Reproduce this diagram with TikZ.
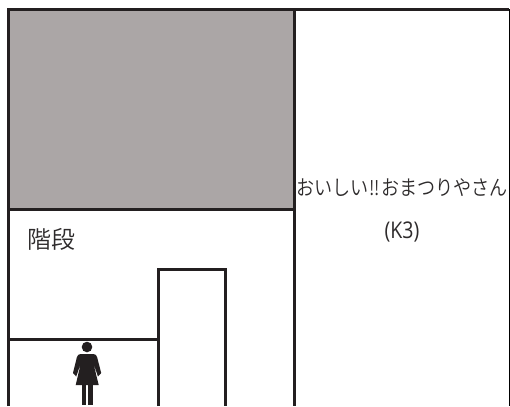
\documentclass[tikz,border=0pt]{standalone}
\usepackage{fontspec}
\newfontfamily\cjk{Noto Sans CJK JP DemiLight}
\newfontfamily\cjknarrow{Noto Sans CJK JP DemiLight}[FakeStretch=0.86]
\newfontfamily\lat{Open Sans}[FakeStretch=0.85]
\definecolor{wall}{HTML}{231F20}
\definecolor{roomgray}{HTML}{ABA6A6}
\definecolor{thin}{HTML}{A8A8A8}
\definecolor{txt}{HTML}{2E2B2C}
\tikzset{
  wallline/.style={draw=wall,line width=3bp,line cap=butt,line join=miter},
  label/.style={inner sep=0pt,text=txt},
  figure/.style={fill=wall,draw=none}
}
\begin{document}
\begin{tikzpicture}[x=1bp,y=-1bp]
\useasboundingbox (0,0) rectangle (510,406);
\fill[white] (0,0) rectangle (510,406);
\fill[roomgray] (8,9) rectangle (294,209);
\draw[thin,line width=1bp] (509.3,9) -- (509.3,406);
\draw[wallline] (8,406) -- (8,9) -- (509,9);
\draw[wallline] (294,9) -- (294,406);
\draw[wallline] (8,209) -- (294,209);
\draw[wallline] (8,339) -- (158,339);
\draw[wallline] (158,406) -- (158,269) -- (225.5,269) -- (225.5,406);
\node[label,font=\cjk\fontsize{24bp}{24bp}\selectfont] (stairs) at (51,239.5) {階段};
\node[label,font=\cjknarrow\fontsize{21bp}{21bp}\selectfont] (shop) at (402,187.5) {おいしい\hspace{1bp}{\fontsize{20bp}{20bp}\selectfont ‼}\hspace{2bp}おまつりやさん};
\node[label,font=\lat\fontsize{23bp}{23bp}\selectfont] (code) at (402,232) {(K3)};
% female figure
\fill[figure] (87,347) circle (5.3);
\fill[figure] (80.5,354) -- (93.5,354)
  .. controls (95.5,354) and (96.6,355.5) .. (97.2,357.5)
  -- (101.2,373) -- (98,376.5) -- (93.3,363) -- (98.7,385) -- (75.7,385) -- (80.9,363) -- (76.2,376.5) -- (73,373) -- (76.8,357.5)
  .. controls (77.4,355.5) and (78.5,354) .. (80.5,354) -- cycle;
\fill[figure] (81.7,385) rectangle (86.2,405);
\fill[figure] (88.2,385) rectangle (92.7,405);
\end{tikzpicture}
\end{document}
